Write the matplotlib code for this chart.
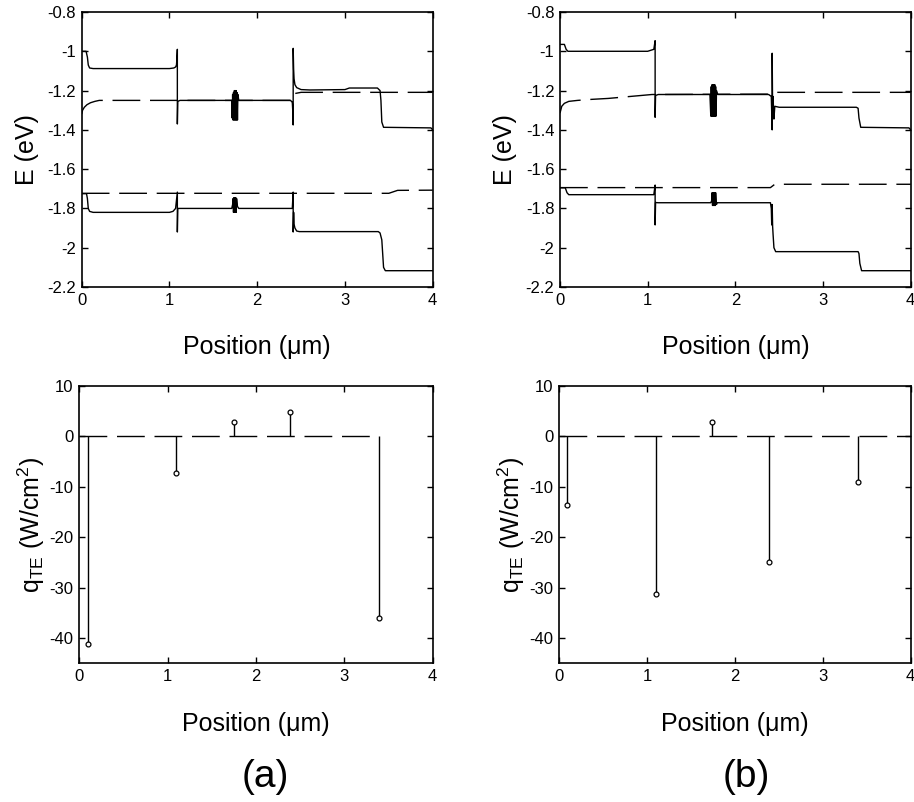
import matplotlib
matplotlib.use('Agg')
import matplotlib.pyplot as plt

plt.rcParams['font.family'] = ['Liberation Sans', 'DejaVu Sans']
plt.rcParams['mathtext.fontset'] = 'custom'
plt.rcParams['mathtext.rm'] = 'Liberation Sans'
plt.rcParams['mathtext.it'] = 'Liberation Sans:italic'

# ---- band diagram (a) ----
a_cb_x = [0, 0.05, 0.065, 0.075, 0.09, 0.13, 1.0, 1.05, 1.07, 1.08, 1.085, 1.09, 1.09, 1.095, 1.12,
          1.71, 1.715, 1.72, 1.725, 1.73, 1.735, 1.74, 1.745, 1.75, 1.755, 1.76, 1.765, 1.77, 1.775,
          1.78, 1.79, 2.38, 2.40, 2.405, 2.41,
          2.41, 2.415, 2.42, 2.43, 2.45, 2.5, 2.6, 3.0, 3.05, 3.37, 3.40, 3.41, 3.42, 3.44, 3.98, 4.0]
a_cb_y = [-1.0, -1.0, -1.03, -1.07, -1.085, -1.088, -1.088, -1.085, -1.08, -1.07, -1.04, -0.99, -1.37, -1.255, -1.25,
          -1.25, -1.34, -1.22, -1.35, -1.21, -1.35, -1.20, -1.35, -1.20, -1.35, -1.20, -1.35, -1.21, -1.35,
          -1.22, -1.25, -1.25, -1.26, -1.30, -1.375,
          -0.985, -1.09, -1.14, -1.17, -1.185, -1.195, -1.197, -1.195, -1.187, -1.187, -1.20, -1.25, -1.36, -1.387, -1.39, -1.40]
a_fn_x = [0, 0.01, 0.03, 0.06, 0.1, 0.15, 0.2, 2.40, 2.43, 2.5, 4.0]
a_fn_y = [-1.32, -1.30, -1.285, -1.272, -1.262, -1.255, -1.25, -1.25, -1.215, -1.209, -1.209]
a_vb_x = [0, 0.055, 0.065, 0.075, 0.09, 0.13, 1.0, 1.04, 1.07, 1.09, 1.09, 1.095, 1.12,
          1.71, 1.72, 1.725, 1.73, 1.735, 1.74, 1.745, 1.75, 1.755, 1.76, 1.765, 1.775, 1.79,
          2.40, 2.41, 2.41, 2.415, 2.42,
          2.43, 2.45, 2.48, 3.38, 3.40, 3.42, 3.44, 3.46, 4.0]
a_vb_y = [-1.725, -1.725, -1.75, -1.80, -1.815, -1.82, -1.82, -1.815, -1.80, -1.717, -1.92, -1.80, -1.80,
          -1.80, -1.78, -1.75, -1.82, -1.745, -1.82, -1.745, -1.82, -1.745, -1.82, -1.75, -1.79, -1.80,
          -1.80, -1.717, -1.92, -1.82, -1.88,
          -1.90, -1.915, -1.918, -1.918, -1.925, -1.96, -2.10, -2.117, -2.117]
a_fp_x = [0, 3.5, 3.6, 4.0]
a_fp_y = [-1.723, -1.723, -1.708, -1.707]

# ---- band diagram (b) ----
b_cb_x = [0, 0.05, 0.07, 0.09, 0.13, 1.0, 1.07, 1.085, 1.085, 1.09, 1.12,
          1.71, 1.72, 1.725, 1.73, 1.735, 1.74, 1.745, 1.75, 1.755, 1.76, 1.765, 1.77, 1.775, 1.78,
          1.785, 1.80, 2.38, 2.41, 2.42,
          2.42, 2.425, 2.43, 2.44, 2.45, 2.5, 3.38, 3.40, 3.41, 3.43, 3.98, 4.0]
b_cb_y = [-0.965, -0.965, -0.99, -1.0, -1.0, -1.0, -0.99, -0.946, -1.336, -1.225, -1.22,
          -1.22, -1.33, -1.18, -1.33, -1.17, -1.33, -1.17, -1.33, -1.17, -1.33, -1.17, -1.33, -1.18, -1.33,
          -1.20, -1.22, -1.22, -1.23, -1.40,
          -1.01, -1.30, -1.23, -1.345, -1.28, -1.285, -1.285, -1.29, -1.34, -1.387, -1.39, -1.40]
b_fn_x = [0, 0.02, 0.05, 0.1, 0.2, 0.35, 0.55, 0.8, 1.05, 2.40, 2.45, 4.0]
b_fn_y = [-1.315, -1.28, -1.265, -1.255, -1.25, -1.245, -1.24, -1.23, -1.22, -1.218, -1.209, -1.209]
b_vb_x = [0, 0.06, 0.08, 0.1, 1.07, 1.085, 1.085, 1.09, 1.12,
          1.72, 1.73, 1.735, 1.74, 1.745, 1.75, 1.755, 1.76, 1.765, 1.77, 1.775, 1.785, 1.79,
          2.40, 2.41, 2.415,
          2.42, 2.425, 2.43, 2.44, 2.46, 3.40, 3.41, 3.42, 3.44, 4.0]
b_vb_y = [-1.695, -1.695, -1.72, -1.73, -1.73, -1.681, -1.884, -1.77, -1.771,
          -1.771, -1.76, -1.72, -1.785, -1.72, -1.785, -1.72, -1.785, -1.72, -1.785, -1.72, -1.78, -1.771,
          -1.771, -1.80, -1.884,
          -1.78, -1.89, -1.93, -2.0, -2.02, -2.02, -2.03, -2.08, -2.117, -2.117]
b_fp_x = [0, 2.40, 2.45, 4.0]
b_fp_y = [-1.694, -1.694, -1.677, -1.677]

# ---- heat flux stems ----
a_q_x = [0.095, 1.10, 1.755, 2.39, 3.39]
a_q_y = [-41.2, -7.2, 2.9, 4.75, -36.0]
a_base_x = [0, 3.39]
b_q_x = [0.09, 1.10, 1.74, 2.39, 3.40]
b_q_y = [-13.6, -31.3, 2.9, -25.0, -9.0]
b_base_x = [0, 4.0]

e_ticks = [-0.8, -1.0, -1.2, -1.4, -1.6, -1.8, -2.0, -2.2]
e_labels = ['-0.8', '-1', '-1.2', '-1.4', '-1.6', '-1.8', '-2', '-2.2']
q_ticks = [10, 0, -10, -20, -30, -40]
q_labels = ['10', '0', '-10', '-20', '-30', '-40']
x_ticks = [0, 1, 2, 3, 4]
x_labels = ['0', '1', '2', '3', '4']

fig = plt.figure(figsize=(9.14, 8.02), dpi=100)

W, H = 914.0, 802.0
def box(l, t, r, b):
    return [l / W, 1 - b / H, (r - l) / W, (b - t) / H]

ax_ea = fig.add_axes(box(81.7, 12, 432.7, 287))
ax_eb = fig.add_axes(box(560, 12, 910.7, 287))
ax_qa = fig.add_axes(box(79.3, 386, 432.7, 663.3))
ax_qb = fig.add_axes(box(559.3, 386, 910.7, 663.3))

dash = (20, 7)

def style(ax):
    ax.set_xlim(0, 4)
    ax.set_xticks(x_ticks)
    ax.set_xticklabels(x_labels)
    ax.tick_params(direction='in', length=4, width=1, top=True, right=True, labelsize=12, pad=4)
    for s in ax.spines.values():
        s.set_linewidth(1.2)
    ax.set_xlabel(u'Position (\u03bcm)', fontsize=18, labelpad=20)

# energy panels
for ax, cb, fn, vb, fp in [
        (ax_ea, (a_cb_x, a_cb_y), (a_fn_x, a_fn_y), (a_vb_x, a_vb_y), (a_fp_x, a_fp_y)),
        (ax_eb, (b_cb_x, b_cb_y), (b_fn_x, b_fn_y), (b_vb_x, b_vb_y), (b_fp_x, b_fp_y))]:
    ax.plot(cb[0], cb[1], color='k', lw=1.0)
    ax.plot(vb[0], vb[1], color='k', lw=1.0)
    ax.plot(fn[0], fn[1], color='k', lw=1.0, dashes=dash)
    ax.plot(fp[0], fp[1], color='k', lw=1.0, dashes=dash)
    ax.set_ylim(-2.2, -0.8)
    ax.set_yticks(e_ticks)
    ax.set_yticklabels(e_labels)
    style(ax)
    ax.set_ylabel('E (eV)', fontsize=18, labelpad=6)

# heat flux panels
for ax, qx, qy, bx in [(ax_qa, a_q_x, a_q_y, a_base_x), (ax_qb, b_q_x, b_q_y, b_base_x)]:
    ax.plot(bx, [0, 0], color='k', lw=1.0, dashes=dash)
    ax.vlines(qx, 0, qy, color='k', lw=1.0)
    ax.plot(qx, qy, 'o', ms=3.5, mfc='white', mec='k', mew=0.9)
    ax.set_ylim(-45, 10)
    ax.set_yticks(q_ticks)
    ax.set_yticklabels(q_labels)
    style(ax)
    ax.set_ylabel(r'q$_{\mathrm{TE}}$ (W/cm$^{2}$)', fontsize=18, labelpad=2)

fig.text(265 / W, 1 - 777 / H, '(a)', fontsize=28, ha='center', va='center')
fig.text(746 / W, 1 - 777 / H, '(b)', fontsize=28, ha='center', va='center')

fig.savefig('out.png', dpi=100)
